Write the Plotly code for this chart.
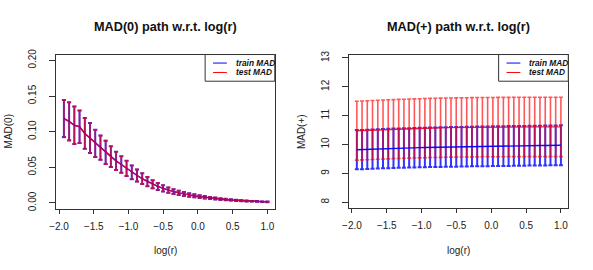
import plotly.graph_objects as go

# ---------------- data ----------------
log_r = [-1.930, -1.855, -1.780, -1.705, -1.629, -1.554, -1.479, -1.404, -1.329, -1.254,
         -1.179, -1.104, -1.028, -0.953, -0.878, -0.803, -0.728, -0.653, -0.578, -0.503,
         -0.427, -0.352, -0.277, -0.202, -0.127, -0.052, 0.023, 0.098, 0.174, 0.249,
         0.324, 0.399, 0.474, 0.549, 0.624, 0.699, 0.775, 0.850, 0.925, 1.000]

mad0_train_mean = [0.1185, 0.1145, 0.1090, 0.1070, 0.0975, 0.0910, 0.0836, 0.0775, 0.0710, 0.0650,
                   0.0590, 0.0540, 0.0485, 0.0430, 0.0385, 0.0340, 0.0300, 0.0262, 0.0232, 0.0205,
                   0.0180, 0.0160, 0.0142, 0.0126, 0.0112, 0.0100, 0.0089, 0.0079, 0.0070, 0.0062,
                   0.0055, 0.0048, 0.0042, 0.0037, 0.0032, 0.0028, 0.0024, 0.0021, 0.0018, 0.0015]
mad0_train_sd = [0.0260, 0.0267, 0.0263, 0.0228, 0.0215, 0.0210, 0.0190, 0.0170, 0.0164, 0.0146,
                 0.0129, 0.0116, 0.0107, 0.0096, 0.0085, 0.0075, 0.0065, 0.0056, 0.0049, 0.0043,
                 0.0038, 0.0034, 0.0030, 0.0027, 0.0024, 0.0021, 0.0019, 0.0017, 0.0015, 0.0013,
                 0.0012, 0.0010, 0.0009, 0.0008, 0.0007, 0.0006, 0.0005, 0.0005, 0.0004, 0.0004]
mad0_test_mean = [0.1180, 0.1142, 0.1088, 0.1068, 0.0973, 0.0908, 0.0834, 0.0773, 0.0709, 0.0649,
                  0.0589, 0.0539, 0.0484, 0.0430, 0.0385, 0.0340, 0.0300, 0.0262, 0.0232, 0.0205,
                  0.0180, 0.0160, 0.0142, 0.0126, 0.0112, 0.0100, 0.0089, 0.0079, 0.0070, 0.0062,
                  0.0055, 0.0048, 0.0042, 0.0037, 0.0032, 0.0028, 0.0024, 0.0021, 0.0018, 0.0015]
mad0_test_sd = [0.0262, 0.0268, 0.0264, 0.0229, 0.0216, 0.0211, 0.0191, 0.0171, 0.0165, 0.0147,
                0.0130, 0.0117, 0.0108, 0.0097, 0.0086, 0.0076, 0.0066, 0.0057, 0.0050, 0.0044,
                0.0039, 0.0035, 0.0031, 0.0028, 0.0025, 0.0022, 0.0020, 0.0018, 0.0016, 0.0014,
                0.0012, 0.0011, 0.0010, 0.0009, 0.0008, 0.0007, 0.0006, 0.0005, 0.0005, 0.0004]

madp_train_mean = [9.820, 9.828, 9.836, 9.843, 9.850, 9.857, 9.863, 9.869, 9.875, 9.880,
                   9.885, 9.890, 9.895, 9.899, 9.903, 9.907, 9.911, 9.915, 9.919, 9.922,
                   9.925, 9.928, 9.931, 9.934, 9.937, 9.940, 9.943, 9.945, 9.948, 9.950,
                   9.953, 9.955, 9.957, 9.960, 9.962, 9.965, 9.967, 9.970, 9.972, 9.975]
madp_train_sd = [0.680, 0.680, 0.681, 0.681, 0.682, 0.682, 0.683, 0.683, 0.683, 0.684,
                 0.684, 0.684, 0.685, 0.685, 0.685, 0.686, 0.686, 0.686, 0.686, 0.687,
                 0.687, 0.687, 0.687, 0.688, 0.688, 0.688, 0.688, 0.688, 0.689, 0.689,
                 0.689, 0.689, 0.689, 0.690, 0.690, 0.690, 0.690, 0.690, 0.690, 0.690]
madp_test_mean = [10.480, 10.488, 10.496, 10.504, 10.512, 10.520, 10.527, 10.534, 10.541, 10.547,
                  10.553, 10.559, 10.564, 10.569, 10.574, 10.578, 10.582, 10.586, 10.589, 10.592,
                  10.595, 10.597, 10.599, 10.601, 10.603, 10.604, 10.605, 10.606, 10.607, 10.608,
                  10.609, 10.609, 10.610, 10.610, 10.610, 10.611, 10.611, 10.611, 10.612, 10.612]
madp_test_sd = [1.020, 1.020, 1.021, 1.021, 1.022, 1.022, 1.023, 1.023, 1.023, 1.024,
                1.024, 1.024, 1.025, 1.025, 1.025, 1.025, 1.026, 1.026, 1.026, 1.026,
                1.026, 1.027, 1.027, 1.027, 1.027, 1.027, 1.027, 1.028, 1.028, 1.028,
                1.028, 1.028, 1.028, 1.028, 1.029, 1.029, 1.029, 1.029, 1.029, 1.029]

x_ticks = [-2.0, -1.5, -1.0, -0.5, 0.0, 0.5, 1.0]
y0_ticks = [0.00, 0.05, 0.10, 0.15, 0.20]
yp_ticks = [8, 9, 10, 11, 12, 13]
titles = ["MAD(0) path w.r.t. log(r)", "MAD(+) path w.r.t. log(r)"]
y_labels = ["MAD(0)", "MAD(+)"]
x_label = "log(r)"
legend_names = ["train MAD", "test MAD"]

# ---------------- layout geometry (pixels) ----------------
W, H = 593, 270
FONT = "Liberation Sans, Arial, sans-serif"
BLUE_BAR = "rgba(0,0,255,0.8)"
RED_BAR = "rgba(255,0,0,0.66)"
BLUE_LINE = "rgba(0,0,255,0.95)"
RED_LINE = "rgba(230,0,40,0.85)"
AXC = "#333333"

def px(x):
    return x / W

def py(y):
    return 1 - y / H

panels = [
    dict(l=49.3, r=271.0, t=50.0, b=209.0),
    dict(l=345.7, r=568.0, t=50.0, b=208.5),
]

fig = go.Figure()

def add_panel(idx, tr_mean, tr_sd, te_mean, te_sd):
    xa = "x" if idx == 0 else "x2"
    ya = "y" if idx == 0 else "y2"
    for mean, sd, col, th in [(tr_mean, tr_sd, BLUE_BAR, 2.0), (te_mean, te_sd, RED_BAR, 1.6)]:
        fig.add_trace(go.Scatter(
            x=log_r, y=mean, mode="markers",
            marker=dict(size=1, color="rgba(0,0,0,0)"),
            error_y=dict(type="data", array=sd, visible=True, color=col,
                         thickness=th, width=2),
            xaxis=xa, yaxis=ya, showlegend=False, hoverinfo="skip"))
    for mean, col, name in [(tr_mean, BLUE_LINE, legend_names[0]), (te_mean, RED_LINE, legend_names[1])]:
        fig.add_trace(go.Scatter(
            x=log_r, y=mean, mode="lines", line=dict(color=col, width=1.4),
            xaxis=xa, yaxis=ya, showlegend=False, name=name))

add_panel(0, mad0_train_mean, mad0_train_sd, mad0_test_mean, mad0_test_sd)
add_panel(1, madp_train_mean, madp_train_sd, madp_test_mean, madp_test_sd)

axis_common = dict(showgrid=False, zeroline=False, showline=True, mirror=True,
                   linecolor=AXC, linewidth=1, ticks="outside", tickcolor=AXC,
                   tickfont=dict(family=FONT, size=10, color="#222"))

xr = [-2.048, 1.106]
yr = [[-0.0082, 0.2082], [7.79, 13.12]]
yt = [y0_ticks, yp_ticks]
yfmt = [".2f", "d"]

for i, p in enumerate(panels):
    sfx = "" if i == 0 else "2"
    fig.update_layout(**{
        "xaxis" + sfx: dict(axis_common, domain=[px(p["l"]), px(p["r"])], range=xr,
                            tickvals=x_ticks, tickformat=".1f", ticklen=4,
                            anchor="y" + sfx, ticklabelstandoff=4),
        "yaxis" + sfx: dict(axis_common, domain=[py(p["b"]), py(p["t"])], range=yr[i],
                            tickvals=yt[i], tickformat=yfmt[i], ticklen=6, tickangle=-90,
                            anchor="x" + sfx, ticklabelstandoff=9),
    })

annotations = []
shapes = []
for i, p in enumerate(panels):
    cx = (p["l"] + p["r"]) / 2
    annotations.append(dict(text="<b>" + titles[i] + "</b>", x=px(cx), y=py(22), xref="paper", yref="paper",
                            showarrow=False, xanchor="center", yanchor="middle",
                            font=dict(family=FONT, size=12.7, color="#111")))
    annotations.append(dict(text=x_label, x=px(cx), y=py(251.5), xref="paper", yref="paper",
                            showarrow=False, xanchor="center", yanchor="middle",
                            font=dict(family=FONT, size=10, color="#222")))
    annotations.append(dict(text=y_labels[i], x=px(p["l"] - 47.5), y=py((p["t"] + p["b"]) / 2),
                            xref="paper", yref="paper", textangle=-90,
                            showarrow=False, xanchor="center", yanchor="middle",
                            font=dict(family=FONT, size=10, color="#222")))
    lx0 = p["r"] - 70.5
    shapes.append(dict(type="rect", xref="paper", yref="paper",
                       x0=px(lx0), x1=px(p["r"]), y0=py(77.5), y1=py(p["t"]),
                       line=dict(color=AXC, width=1), fillcolor="white", layer="above"))
    for j, (col, yy) in enumerate([("blue", 58.8), ("red", 68.5)]):
        shapes.append(dict(type="line", xref="paper", yref="paper",
                           x0=px(lx0 + 8), x1=px(lx0 + 22), y0=py(yy), y1=py(yy),
                           line=dict(color=col, width=1), layer="above"))
        annotations.append(dict(text="<b><i>" + legend_names[j] + "</i></b>", x=px(lx0 + 29),
                                y=py(yy), xref="paper", yref="paper", showarrow=False,
                                xanchor="left", yanchor="middle",
                                font=dict(family=FONT, size=8.3, color="#111")))

fig.update_layout(width=W, height=H, margin=dict(l=0, r=0, t=0, b=0),
                  paper_bgcolor="white", plot_bgcolor="white",
                  annotations=annotations, shapes=shapes, showlegend=False)

fig.write_html("out.html", config={"displayModeBar": False},
               post_script="document.body.style.margin='0';")
